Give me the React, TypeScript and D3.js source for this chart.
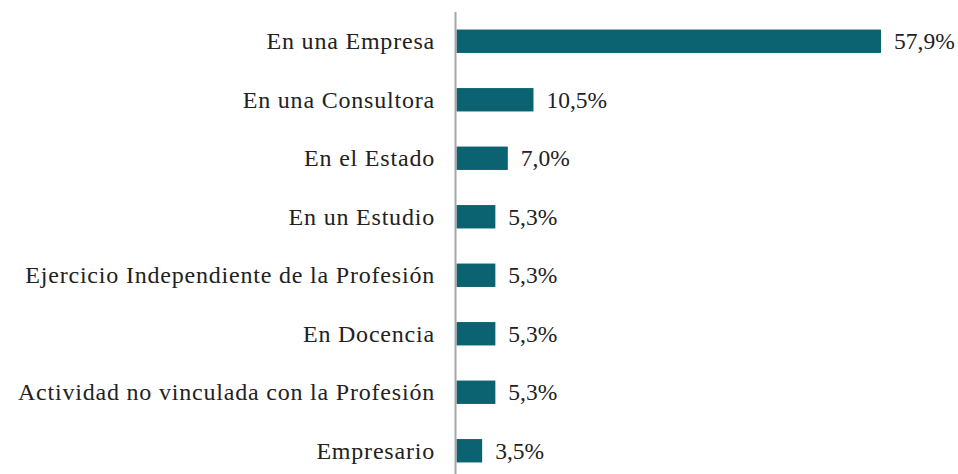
import React, {FC, useEffect, useRef} from 'react';
import * as d3 from 'd3';

const categories = [
  'En una Empresa',
  'En una Consultora',
  'En el Estado',
  'En un Estudio',
  'Ejercicio Independiente de la Profesión',
  'En Docencia',
  'Actividad no vinculada con la Profesión',
  'Empresario',
];
const values = [57.9, 10.5, 7.0, 5.3, 5.3, 5.3, 5.3, 3.5];

const W = 958;
const H = 474;
const FONT = 'Liberation Serif';

const App: FC = () => {
  const ref = useRef<SVGSVGElement>(null);

  useEffect(() => {
    const svg = d3.select(ref.current);
    svg.selectAll('*').remove();

    const data = categories.map((c, i) => ({c, v: values[i]}));

    // band scale for the rows
    const y = d3
      .scaleBand<string>()
      .domain(categories)
      .range([12, 480])
      .paddingInner(0.6)
      .paddingOuter(0.3);

    const x = d3.scaleLinear().domain([0, 57.9]).range([456.5, 881]);

    const fmt = (v: number) => d3.format('.1f')(v).replace('.', ',') + '%';

    // bars
    svg
      .append('g')
      .selectAll('rect')
      .data(data)
      .enter()
      .append('rect')
      .attr('x', x(0))
      .attr('y', d => y(d.c)!)
      .attr('width', d => x(d.v) - x(0))
      .attr('height', y.bandwidth())
      .attr('fill', '#0b6371');

    // axis line
    svg
      .append('line')
      .attr('x1', 455.5)
      .attr('x2', 455.5)
      .attr('y1', 12)
      .attr('y2', H)
      .attr('stroke', '#a6a6a6')
      .attr('stroke-width', 2);

    // category labels
    svg
      .append('g')
      .selectAll('text')
      .data(data)
      .enter()
      .append('text')
      .attr('x', 435)
      .attr('y', d => y(d.c)! + y.bandwidth() / 2)
      .attr('dy', '0.33em')
      .attr('text-anchor', 'end')
      .attr('font-family', FONT)
      .attr('font-size', 24)
      .attr('letter-spacing', 0.8)
      .attr('fill', '#222')
      .text(d => d.c);

    // value labels
    svg
      .append('g')
      .selectAll('text')
      .data(data)
      .enter()
      .append('text')
      .attr('x', d => x(d.v) + 13)
      .attr('y', d => y(d.c)! + y.bandwidth() / 2)
      .attr('dy', '0.33em')
      .attr('font-family', FONT)
      .attr('font-size', 23.5)
      .attr('fill', '#222')
      .text(d => fmt(d.v));
  }, []);

  return (
    <svg
      ref={ref}
      width={W}
      height={H}
      style={{position: 'absolute', left: 0, top: 0, background: '#fff'}}
    />
  );
};

export default App;
